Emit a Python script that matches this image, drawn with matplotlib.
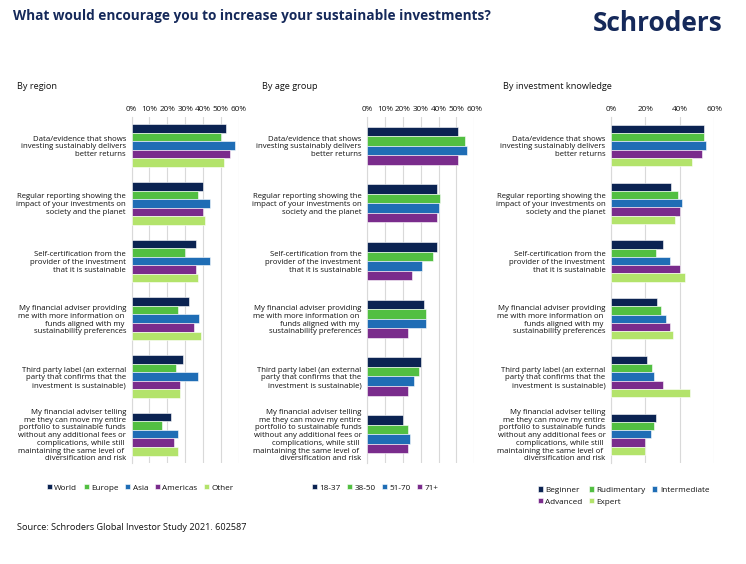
import matplotlib.pyplot as plt
from matplotlib.ticker import PercentFormatter

plt.rcParams["font.family"] = ["Open Sans", "DejaVu Sans"]

categories = [
    "Data/evidence that shows\ninvesting sustainably delivers\nbetter returns",
    "Regular reporting showing the\nimpact of your investments on\nsociety and the planet",
    "Self-certification from the\nprovider of the investment\nthat it is sustainable",
    "My financial adviser providing\nme with more information on \nfunds aligned with my \nsustainability preferences",
    "Third party label (an external\nparty that confirms that the\ninvestment is sustainable)",
    "My financial adviser telling\nme they can move my entire\nportfolio to sustainable funds\nwithout any additional fees or\ncomplications, while still \nmaintaining the same level of \ndiversification and risk",
]

# values in %, one list per series, in category order
region_names = ["World", "Europe", "Asia", "Americas", "Other"]
world = [53, 40, 36, 32, 29, 22]
europe = [50, 37, 30, 26, 25, 17]
asia = [58, 44, 44, 38, 37, 26]
americas = [55, 40, 36, 35, 27, 24]
other = [52, 41, 37, 39, 27, 26]

age_names = ["18-37", "38-50", "51-70", "71+"]
age_18_37 = [51, 39, 39, 32, 30, 20]
age_38_50 = [55, 41, 37, 33, 29, 23]
age_51_70 = [56, 40, 31, 33, 26, 24]
age_71_plus = [51, 39, 25, 23, 23, 23]

knowledge_names = ["Beginner", "Rudimentary", "Intermediate", "Advanced", "Expert"]
beginner = [54, 35, 30, 27, 21, 26]
rudimentary = [54, 39, 26, 29, 24, 25]
intermediate = [55, 41, 34, 32, 25, 23]
advanced = [53, 40, 40, 34, 30, 20]
expert = [47, 37, 43, 36, 46, 20]

colors = ["#0b2352", "#52bf42", "#1f6db5", "#7a2c8c", "#b3e36b"]
navy = "#15295a"
text_col = "#111111"


def draw_panel(ax, series, names, xticks, bar_h):
    n = len(series)
    for i, (vals, name) in enumerate(zip(series, names)):
        ys = [g - (n - 1) / 2 * bar_h + i * bar_h for g in range(len(categories))]
        ax.barh(ys, [v / 100 for v in vals], height=bar_h, color=colors[i],
                edgecolor="white", linewidth=0.4, label=name, zorder=3)
    ax.set_xlim(0, 0.6)
    ax.set_ylim(len(categories) - 0.5, -0.5)
    ax.set_xticks(xticks)
    ax.xaxis.set_major_formatter(PercentFormatter(1.0, decimals=0))
    ax.xaxis.tick_top()
    ax.tick_params(axis="x", length=0, pad=3, labelsize=5.9, colors=text_col)
    ax.set_yticks(range(len(categories)))
    ax.set_yticklabels(categories)
    ax.tick_params(axis="y", length=0, pad=4, labelsize=5.6, colors=text_col)
    for lab in ax.get_yticklabels():
        lab.set_linespacing(1.15)
    ax.grid(axis="x", color="#d9d9d9", linewidth=0.8, zorder=0)
    for s in ["top", "right", "bottom"]:
        ax.spines[s].set_visible(False)
    ax.spines["left"].set_color("#d9d9d9")


fig = plt.figure(figsize=(7.46, 5.64), dpi=100)

ax1 = fig.add_axes([0.1765, 0.179, 0.1434, 0.614])
ax2 = fig.add_axes([0.492, 0.179, 0.1438, 0.614])
ax3 = fig.add_axes([0.819, 0.179, 0.1385, 0.614])

draw_panel(ax1, [world, europe, asia, americas, other], region_names,
           [0, 0.1, 0.2, 0.3, 0.4, 0.5, 0.6], 0.148)
draw_panel(ax2, [age_18_37, age_38_50, age_51_70, age_71_plus], age_names,
           [0, 0.1, 0.2, 0.3, 0.4, 0.5, 0.6], 0.165)
draw_panel(ax3, [beginner, rudimentary, intermediate, advanced, expert], knowledge_names,
           [0, 0.2, 0.4, 0.6], 0.143)

leg_kw = dict(frameon=False, fontsize=5.9, handlelength=0.6, handleheight=0.6,
              handletextpad=0.3, columnspacing=0.8, labelcolor=text_col)
fig.legend(*ax1.get_legend_handles_labels(), loc="center", ncol=5,
           bbox_to_anchor=(0.1877, 0.135), **leg_kw)
fig.legend(*ax2.get_legend_handles_labels(), loc="center", ncol=4,
           bbox_to_anchor=(0.503, 0.135), **leg_kw)
h3, l3 = ax3.get_legend_handles_labels()
# reorder so the legend fills row by row
order = [0, 3, 1, 4, 2]
fig.legend([h3[k] for k in order], [l3[k] for k in order], loc="center", ncol=3,
           bbox_to_anchor=(0.836, 0.1206), labelspacing=0.5, **leg_kw)

fig.text(0.017, 0.972, "What would encourage you to increase your sustainable investments?",
         fontsize=9.8, fontweight="bold", color=navy, va="center", ha="left")
fig.text(0.968, 0.958, "Schroders", fontsize=19, fontweight="bold", color=navy,
         va="center", ha="right")
fig.text(0.023, 0.847, "By region", fontsize=6.6, color=text_col, va="center")
fig.text(0.351, 0.847, "By age group", fontsize=6.6, color=text_col, va="center")
fig.text(0.674, 0.847, "By investment knowledge", fontsize=6.6, color=text_col, va="center")
fig.text(0.023, 0.064, "Source: Schroders Global Investor Study 2021. 602587",
         fontsize=6.6, color=text_col, va="center")

fig.savefig("out.png", dpi=100)
